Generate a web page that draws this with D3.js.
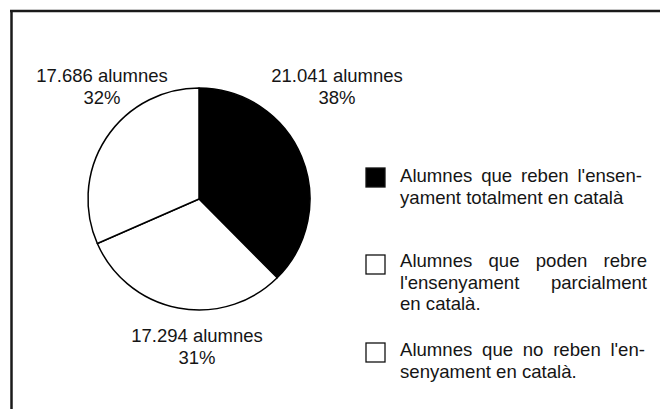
<!DOCTYPE html>
<html>
<head>
<meta charset="utf-8">
<script src="https://cdn.jsdelivr.net/npm/d3@7"></script>
<style>
  html, body { margin: 0; padding: 0; background: #fff; }
  svg { display: block; }
  text { font-family: "Liberation Sans", Arial, Helvetica, sans-serif; fill: #151515; }
</style>
</head>
<body>
<svg id="chart" width="660" height="409"></svg>
<script>
// ---- data ----
const categories = [
  "Alumnes que reben l'ensenyament totalment en català",
  "Alumnes que poden rebre l'ensenyament parcialment en català.",
  "Alumnes que no reben l'ensenyament en català."
];
const students = [21041, 17294, 17686];
const percentLabels = ["38%", "31%", "32%"];
const countLabels = ["21.041 alumnes", "17.294 alumnes", "17.686 alumnes"];
const legendLines = [
  ["Alumnes que reben l'ensen-", "yament totalment en català"],
  ["Alumnes que poden rebre", "l'ensenyament parcialment", "en català."],
  ["Alumnes que no reben l'en-", "senyament en català."]
];
const fills = ["#000", "#fff", "#fff"];

// ---- layout ----
const svg = d3.select("#chart");
const W = 660, H = 409;

// frame (top and left rules)
svg.append("line").attr("x1", 10).attr("x2", W).attr("y1", 11).attr("y2", 11)
  .attr("stroke", "#1a1a1a").attr("stroke-width", 2.5);
svg.append("line").attr("x1", 11.5).attr("x2", 11.5).attr("y1", 10).attr("y2", H)
  .attr("stroke", "#1a1a1a").attr("stroke-width", 2.5);

const cx = 199, cy = 199, R = 111;
const pie = d3.pie().sort(null).value(d => d).startAngle(0).endAngle(2 * Math.PI);
const arc = d3.arc().innerRadius(0).outerRadius(R);
const arcs = pie(students);

const g = svg.append("g").attr("transform", `translate(${cx},${cy})`);
g.selectAll("path").data(arcs).enter().append("path")
  .attr("d", arc)
  .attr("fill", (d, i) => fills[i])
  .attr("stroke", "#000")
  .attr("stroke-width", 1.5)
  .attr("stroke-linejoin", "round");

// slice labels (placed around the pie)
const labelPos = [
  { x: 337, y: 82 },  // black slice
  { x: 197, y: 342 }, // bottom slice
  { x: 102, y: 82 }   // upper-left slice
];
const fs = 18.5;
arcs.forEach((a, i) => {
  const t = svg.append("text")
    .attr("text-anchor", "middle")
    .attr("font-size", fs);
  t.append("tspan").attr("x", labelPos[i].x).attr("y", labelPos[i].y).text(countLabels[i]);
  t.append("tspan").attr("x", labelPos[i].x).attr("y", labelPos[i].y + 21.5).text(percentLabels[i]);
});

// legend
const legX = 366, sw = 19, textX = 400;
const itemTop = [168, 255, 343];
const lineBaseFirst = [182, 267, 356];
const justifyRight = [642, 647, 645];
const lh = 21.5;
legendLines.forEach((lines, i) => {
  svg.append("rect")
    .attr("x", legX).attr("y", itemTop[i])
    .attr("width", sw).attr("height", sw)
    .attr("fill", fills[i]).attr("stroke", "#111").attr("stroke-width", 1.3);
  lines.forEach((ln, j) => {
    const t = svg.append("text")
      .attr("x", textX).attr("y", lineBaseFirst[i] + j * lh)
      .attr("font-size", 18.6)
      .text(ln);
    // justify all but the last line of each item
    if (j < lines.length - 1) {
      const natural = t.node().getComputedTextLength();
      const spaces = (ln.match(/ /g) || []).length;
      const target = justifyRight[i] - textX;
      if (spaces > 0 && target > natural) {
        t.attr("word-spacing", (target - natural) / spaces);
      }
    }
  });
});
</script>
</body>
</html>
